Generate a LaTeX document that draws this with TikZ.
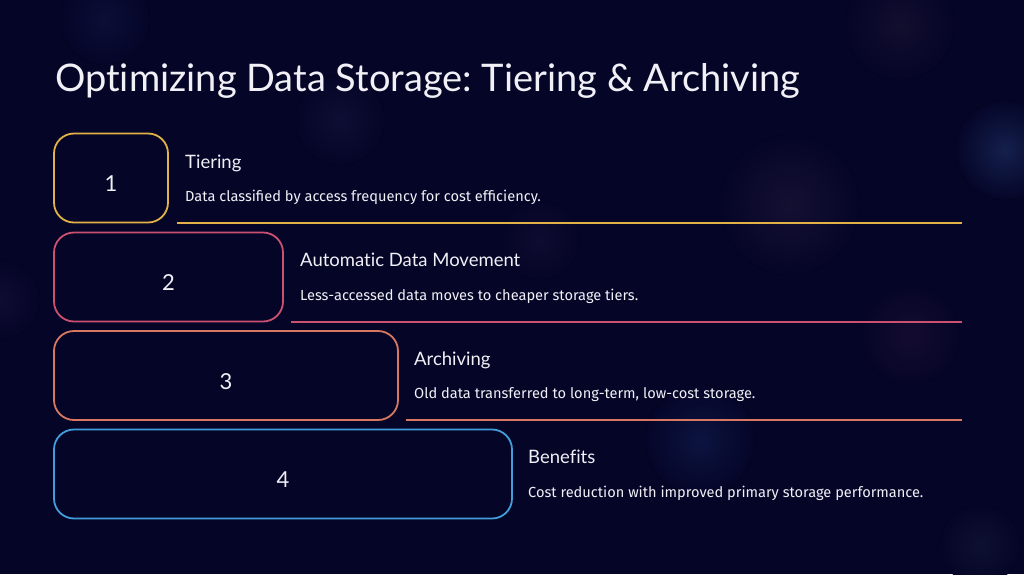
\documentclass[tikz,border=0pt]{standalone}
\usepackage{fontspec}
\setmainfont{Fira Sans}
\newfontfamily\headfont[Ligatures=NoCommon]{Lato}
\frenchspacing
\definecolor{bgc}{RGB}{5,5,40}
\definecolor{cyel}{RGB}{226,178,70}
\definecolor{cpink}{RGB}{204,80,112}
\definecolor{csal}{RGB}{216,120,96}
\definecolor{cblue}{RGB}{66,158,218}
\definecolor{txt}{RGB}{240,240,246}
\definecolor{gA}{RGB}{20,32,76}
\definecolor{gB}{RGB}{14,14,52}
\definecolor{gC}{RGB}{20,16,50}
\definecolor{gD}{RGB}{12,20,64}
\definecolor{gE}{RGB}{12,14,54}
\definecolor{gF}{RGB}{18,14,46}
\definecolor{gG}{RGB}{20,12,48}
\definecolor{gH}{RGB}{14,12,48}
\definecolor{gI}{RGB}{14,12,50}
\definecolor{gJ}{RGB}{14,16,50}
\tikzset{
  stepbox/.style={draw=#1, line width=1.8pt, rounded corners=20pt, minimum height=89pt, inner sep=0pt},
  numtxt/.style={anchor=center, inner sep=0pt, text=txt, font=\headfont\fontsize{22}{26}\selectfont},
  headtxt/.style={anchor=base west, inner sep=0pt, text=txt, font=\headfont\fontsize{18.5}{22}\selectfont},
  desctxt/.style={anchor=base west, inner sep=0pt, text=txt, font=\fontsize{14.6}{17}\selectfont},
  uline/.style={draw=#1, line width=1.5pt},
  glow/.style={inner color=#1, outer color=bgc}
}
\begin{document}
\begin{tikzpicture}[x=1pt,y=-1pt]
\fill[bgc] (0,0) rectangle (1024,574);
\useasboundingbox (0,0) rectangle (1024,574);
% faint background glows
\fill[glow=gA] (1005,150) circle (50);
\fill[glow=gB] (340,120) circle (45);
\fill[glow=gC] (790,205) circle (70);
\fill[glow=gD] (700,440) circle (55);
\fill[glow=gE] (105,20) circle (45);
\fill[glow=gF] (900,25) circle (55);
\fill[glow=gG] (910,335) circle (50);
\fill[glow=gH] (540,240) circle (40);
\fill[glow=gI] (0,300) circle (40);
\fill[glow=gJ] (980,545) circle (40);

% title
\node[anchor=base west, inner sep=0pt, text=txt, font=\headfont\fontsize{38}{44}\selectfont] (title) at (55,91) {Optimizing Data Storage: Tiering \& Archiving};

% boxes
\node[stepbox=cyel, minimum width=114pt] (b1) at (111,178) {};
\node[stepbox=cpink, minimum width=229pt] (b2) at (168.5,277) {};
\node[stepbox=csal, minimum width=344pt] (b3) at (226,375.5) {};
\node[stepbox=cblue, minimum width=458pt] (b4) at (283,474) {};
\node[numtxt] (n1) at ([yshift=-6pt]b1.center) {1};
\node[numtxt] (n2) at ([yshift=-6pt]b2.center) {2};
\node[numtxt] (n3) at ([yshift=-6pt]b3.center) {3};
\node[numtxt] (n4) at ([yshift=-6pt]b4.center) {4};

% headings and descriptions
\node[headtxt] (h1) at (185,168) {Tiering};
\node[desctxt] (d1) at (185,201.5) {Data classified by access frequency for cost efficiency.};
\node[headtxt] (h2) at (300,266.5) {Automatic Data Movement};
\node[desctxt] (d2) at (300,300) {Less-accessed data moves to cheaper storage tiers.};
\node[headtxt] (h3) at (414,365) {Archiving};
\node[desctxt] (d3) at (414,398.5) {Old data transferred to long-term, low-cost storage.};
\node[headtxt] (h4) at (528,463.5) {Benefits};
\node[desctxt] (d4) at (528,497) {Cost reduction with improved primary storage performance.};

% underlines
\coordinate (s1) at (177,223);
\coordinate (e1) at (962,223);
\coordinate (s2) at (291,322);
\coordinate (e2) at (962,322);
\coordinate (s3) at (406,420);
\coordinate (e3) at (962,420);
\draw[uline=cyel] (s1) -- (e1);
\draw[uline=cpink] (s2) -- (e2);
\draw[uline=csal] (s3) -- (e3);
\end{tikzpicture}
\end{document}
